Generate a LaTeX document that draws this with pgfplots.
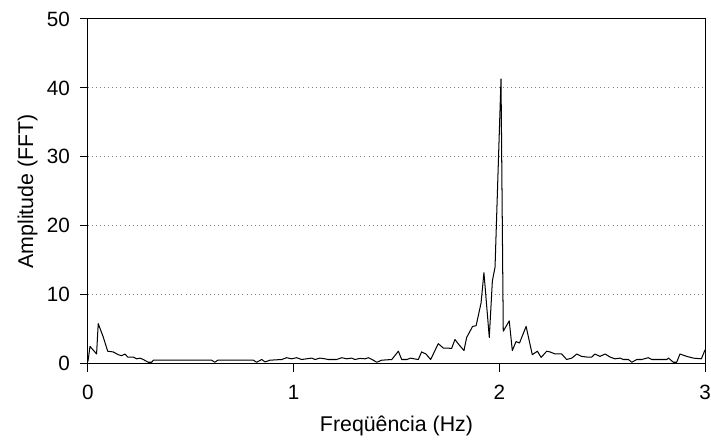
\documentclass[border=0pt]{standalone}
\usepackage{fontspec}
\setmainfont{Liberation Sans}
\usepackage{pgfplots}
\pgfplotsset{compat=1.18}
\usetikzlibrary{calc}

\begin{document}
\begin{tikzpicture}
\begin{axis}[
    scale only axis,
    width=364.2pt, height=203.4pt,
    xmin=0, xmax=3, ymin=0, ymax=50,
    xtick={0,1,2,3}, ytick={0,10,20,30,40,50},
    tick align=outside, xtick pos=left, ytick pos=left,
    major tick length=4.7pt,
    ymajorgrids,
    grid style={dotted, gray, line width=0.6pt},
    axis line style={line width=0.6pt},
    tick style={line width=0.6pt, black},
    xlabel={Freqüência (Hz)},
    ylabel={Amplitude (FFT)},
    /pgf/number format/assume math mode=true,
    tick label style={font=\fontsize{12.2}{14}\selectfont},
    xticklabel style={yshift=-4.3pt},
    yticklabel style={xshift=-2.4pt},
    every axis x label/.style={at={(axis description cs:0.5,-0.1957)}, anchor=base,
        font=\fontsize{12.6}{15}\selectfont},
    every axis y label/.style={at={(axis description cs:-0.089,0.5)}, anchor=base, rotate=90,
        font=\fontsize{12.6}{15}\selectfont},
]
\addplot[black, line width=0.6pt, line join=round] coordinates {
(0.000,0.3) (0.010,2.5) (0.042,1.4) (0.050,5.8) (0.074,3.9) (0.096,1.8)
(0.123,1.7) (0.147,1.3) (0.164,1.15) (0.180,1.4) (0.193,0.96) (0.220,0.96)
(0.237,0.7) (0.253,0.8) (0.269,0.6) (0.293,0.2) (0.310,0.2) (0.318,0.5)
(0.601,0.5) (0.617,0.2) (0.631,0.5) (0.804,0.5) (0.820,0.2) (0.845,0.6)
(0.861,0.25) (0.885,0.5) (0.942,0.6) (0.966,0.86) (0.990,0.7) (1.015,0.86)
(1.039,0.6) (1.063,0.7) (1.088,0.8) (1.104,0.6) (1.128,0.8) (1.152,0.7)
(1.168,0.6) (1.209,0.6) (1.234,0.86) (1.258,0.7) (1.282,0.8) (1.298,0.6)
(1.323,0.76) (1.347,0.7) (1.363,0.86) (1.387,0.5) (1.404,0.2) (1.428,0.5)
(1.477,0.6) (1.509,1.8) (1.525,0.6) (1.550,0.6) (1.569,0.8) (1.585,0.7)
(1.606,0.6) (1.622,1.7) (1.643,1.4) (1.666,0.6) (1.703,2.9) (1.728,2.25)
(1.752,2.25) (1.768,2.2) (1.784,3.5) (1.805,2.7) (1.828,1.9) (1.841,3.8)
(1.870,5.4) (1.887,5.5) (1.911,8.8) (1.925,13.2) (1.951,3.8) (1.966,12.0)
(1.979,14.0) (2.008,41.3) (2.019,4.7) (2.048,6.2) (2.063,1.9) (2.081,3.2)
(2.098,3.0) (2.130,5.4) (2.160,1.3) (2.185,1.8) (2.203,0.9) (2.230,1.8)
(2.246,1.7) (2.271,1.4) (2.303,1.4) (2.327,0.6) (2.352,0.8) (2.376,1.4)
(2.400,1.05) (2.424,0.96) (2.449,0.96) (2.465,1.4) (2.489,1.05) (2.514,1.4)
(2.538,0.96) (2.562,0.7) (2.587,0.8) (2.603,0.6) (2.627,0.6) (2.644,0.2)
(2.668,0.6) (2.692,0.6) (2.724,0.86) (2.741,0.6) (2.814,0.6) (2.822,0.8)
(2.846,0.2) (2.862,0.2) (2.878,1.4) (2.911,1.05) (2.943,0.8) (2.982,0.7)
(3.000,2.0)
};
\end{axis}
\pgfresetboundingbox
\path ($(current axis.south west)+(-51.9pt,-45.2pt)$) rectangle ($(current axis.north east)+(3.5pt,11.2pt)$);
\end{tikzpicture}
\end{document}
